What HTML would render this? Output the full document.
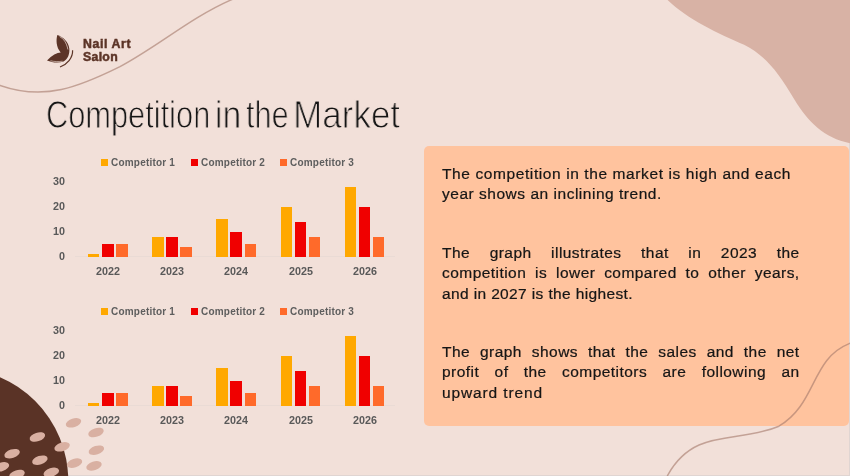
<!DOCTYPE html>
<html><head><meta charset="utf-8">
<style>
html,body{margin:0;padding:0;}
.para,.logo,.leg,.yl,.xl,.title{will-change:transform;}
body{width:850px;height:476px;overflow:hidden;background:#E0D5D2;position:relative;font-family:"Liberation Sans",sans-serif;}
#slide{position:absolute;left:0;top:0;width:850px;height:476px;overflow:hidden;}
#bg{position:absolute;left:0;top:0;width:849px;height:475px;background:#F2E0D9;}
.abs{position:absolute;}
svg{position:absolute;left:0;top:0;}
.title{position:absolute;top:94.2px;font-size:38px;line-height:normal;color:#141414;white-space:nowrap;transform-origin:0 0;-webkit-text-stroke:1px #F2E0D9;}
.logo{position:absolute;left:83px;font-size:12.3px;font-weight:700;color:#5C3427;white-space:nowrap;letter-spacing:0.3px;-webkit-text-stroke:0.5px #5C3427;}
.box{position:absolute;left:424px;top:145.8px;width:424.8px;height:280.6px;background:#FFC39E;border-radius:5px;}
.para{position:absolute;left:442.1px;width:357.6px;font-size:15.5px;color:#161616;letter-spacing:0.45px;-webkit-text-stroke:0.22px #161616;}
.para div{height:20.4px;line-height:20.4px;white-space:nowrap;}
.para div.j{text-align:justify;text-align-last:justify;white-space:normal;}
.leg{position:absolute;font-size:10px;font-weight:700;color:#5E5E5E;white-space:nowrap;letter-spacing:0.2px;}
.sq{position:absolute;width:7px;height:7px;}
.yl{position:absolute;font-size:10.75px;font-weight:700;color:#595959;width:30px;text-align:right;}
.xl{position:absolute;font-size:10.75px;font-weight:700;color:#595959;width:40px;text-align:center;}
.bar{position:absolute;width:11.5px;}
</style></head>
<body>
<div id="slide"><div id="bg"></div>
<svg width="850" height="476" viewBox="0 0 850 476">
  <path d="M667.6,0 C687.1,19.2 719.1,34.2 744.1,44.7 C766,56 778,72 794.7,100 C808,122 825,139 852,143.5 L852,-2 L667.6,-2 Z" fill="#D8B2A5"/>
  <path d="M-4,84 L0,85.4 C44.7,101.1 79,87 120,66.7 C157.6,46.6 191.2,17.5 230,0.4 L234,-1.4" fill="none" stroke="#A67A6C" stroke-opacity="0.62" stroke-width="1.5"/>
</svg>

<div class="title" style="left:46.4px;transform:scaleX(0.810)">Competition</div><div class="title" style="left:214.85px;transform:scaleX(0.883)">in</div><div class="title" style="left:246.4px;transform:scaleX(0.806)">the</div><div class="title" style="left:292.9px;transform:scaleX(0.922)">Market</div>
<div class="logo" style="top:37px;letter-spacing:0.6px">Nail Art</div>
<div class="logo" style="top:49.8px">Salon</div>
<svg width="100" height="100" viewBox="0 0 100 100" style="left:0;top:0">
  <path d="M57.3,35 C56,40 56,47 60.7,52.5 C57,52.5 52,55.5 47,60.4 C52,62.5 58,63.3 63.5,61.5 C68,59 69.8,54 69.3,48.5 C68.5,41.5 63,37 57.3,35 Z" fill="#5C3427"/>
  <path d="M59.6,36.6 C63.5,38.6 66.6,42.6 67.9,49.5" fill="none" stroke="#F2E0D9" stroke-width="0.7"/>
  <path d="M50.5,60.7 C54,61.7 58,61.9 62.5,61.2" fill="none" stroke="#F2E0D9" stroke-width="0.6"/>
  <path d="M72.6,50.3 C73,58 67,64.5 60,67" fill="none" stroke="#5C3427" stroke-width="1.2"/>
</svg>

<div class="box"></div>
<div class="para" style="top:164.2px">
  <div style="letter-spacing:0.6px">The competition in the market is high and each</div>
  <div style="letter-spacing:0.52px">year shows an inclining trend.</div>
</div>
<div class="para" style="top:242.7px">
  <div class="j">The graph illustrates that in 2023 the</div>
  <div class="j">competition is lower compared to other years,</div>
  <div style="letter-spacing:0.37px">and in 2027 is the highest.</div>
</div>
<div class="para" style="top:342.2px">
  <div class="j">The graph shows that the sales and the net</div>
  <div class="j">profit of the competitors are following an</div>
  <div style="letter-spacing:0.87px">upward trend</div>
</div>

<svg width="850" height="476" viewBox="0 0 850 476">
  <path d="M853,342.1 L849.2,343.6 C810.8,358.8 816.9,403.9 778.9,426.2 C738,444 694.9,426.6 667.9,474.8 L667,477" fill="none" stroke="#A67A6C" stroke-opacity="0.62" stroke-width="1.5"/>
  <circle cx="-44.7" cy="481" r="113" fill="#5A3326"/>
  <g fill="#D9B0A2">
    <ellipse cx="73.5" cy="422.8" rx="8" ry="4.3" transform="rotate(-18 73.5 422.8)"/>
    <ellipse cx="96" cy="432.5" rx="8" ry="4.3" transform="rotate(-18 96 432.5)"/>
    <ellipse cx="37.4" cy="437" rx="8" ry="4.3" transform="rotate(-18 37.4 437)"/>
    <ellipse cx="62.1" cy="446.8" rx="8" ry="4.3" transform="rotate(-18 62.1 446.8)"/>
    <ellipse cx="96.4" cy="450.2" rx="8" ry="4.3" transform="rotate(-18 96.4 450.2)"/>
    <ellipse cx="12.1" cy="453.7" rx="8" ry="4.3" transform="rotate(-18 12.1 453.7)"/>
    <ellipse cx="39.9" cy="460.2" rx="8" ry="4.3" transform="rotate(-18 39.9 460.2)"/>
    <ellipse cx="74.5" cy="463.1" rx="8" ry="4.3" transform="rotate(-18 74.5 463.1)"/>
    <ellipse cx="94" cy="465.9" rx="8" ry="4.3" transform="rotate(-18 94 465.9)"/>
    <ellipse cx="1.4" cy="466.9" rx="8" ry="4.3" transform="rotate(-18 1.4 466.9)"/>
    <ellipse cx="17" cy="474.5" rx="8" ry="4.3" transform="rotate(-18 17 474.5)"/>
    <ellipse cx="51.3" cy="472.4" rx="8" ry="4.3" transform="rotate(-18 51.3 472.4)"/>
  </g>
</svg>

<div id="charts">
<div class="sq" style="left:100.8px;top:159px;background:#FFA800"></div>
<div class="leg" style="left:110.7px;top:157.1px">Competitor 1</div>
<div class="sq" style="left:190.8px;top:159px;background:#F00000"></div>
<div class="leg" style="left:200.5px;top:157.1px">Competitor 2</div>
<div class="sq" style="left:279.6px;top:159px;background:#FF6A2A"></div>
<div class="leg" style="left:290px;top:157.1px">Competitor 3</div>
<div class="yl" style="left:34.599999999999994px;top:249.5px">0</div>
<div class="yl" style="left:34.599999999999994px;top:224.5px">10</div>
<div class="yl" style="left:34.599999999999994px;top:199.5px">20</div>
<div class="yl" style="left:34.599999999999994px;top:174.5px">30</div>
<div class="abs" style="left:75px;top:255.5px;width:320px;height:1px;background:#EADBD5"></div>
<div class="bar" style="left:87.9px;top:254px;height:2.5px;background:#FFA800"></div>
<div class="bar" style="left:102px;top:244px;height:12.5px;background:#F00000"></div>
<div class="bar" style="left:116.10000000000001px;top:244px;height:12.5px;background:#FF6A2A"></div>
<div class="xl" style="left:87.9px;top:264.7px">2022</div>
<div class="bar" style="left:152.12px;top:236.5px;height:20px;background:#FFA800"></div>
<div class="bar" style="left:166.22px;top:236.5px;height:20px;background:#F00000"></div>
<div class="bar" style="left:180.32px;top:246.5px;height:10px;background:#FF6A2A"></div>
<div class="xl" style="left:152.12px;top:264.7px">2023</div>
<div class="bar" style="left:216.34px;top:219px;height:37.5px;background:#FFA800"></div>
<div class="bar" style="left:230.44px;top:231.5px;height:25px;background:#F00000"></div>
<div class="bar" style="left:244.54px;top:244px;height:12.5px;background:#FF6A2A"></div>
<div class="xl" style="left:216.34px;top:264.7px">2024</div>
<div class="bar" style="left:280.56px;top:206.5px;height:50px;background:#FFA800"></div>
<div class="bar" style="left:294.66px;top:221.5px;height:35px;background:#F00000"></div>
<div class="bar" style="left:308.76px;top:236.5px;height:20px;background:#FF6A2A"></div>
<div class="xl" style="left:280.56px;top:264.7px">2025</div>
<div class="bar" style="left:344.78px;top:186.5px;height:70px;background:#FFA800"></div>
<div class="bar" style="left:358.88px;top:206.5px;height:50px;background:#F00000"></div>
<div class="bar" style="left:372.97999999999996px;top:236.5px;height:20px;background:#FF6A2A"></div>
<div class="xl" style="left:344.78px;top:264.7px">2026</div>
<div class="sq" style="left:100.8px;top:308px;background:#FFA800"></div>
<div class="leg" style="left:110.7px;top:306.1px">Competitor 1</div>
<div class="sq" style="left:190.8px;top:308px;background:#F00000"></div>
<div class="leg" style="left:200.5px;top:306.1px">Competitor 2</div>
<div class="sq" style="left:279.6px;top:308px;background:#FF6A2A"></div>
<div class="leg" style="left:290px;top:306.1px">Competitor 3</div>
<div class="yl" style="left:34.599999999999994px;top:398.5px">0</div>
<div class="yl" style="left:34.599999999999994px;top:373.5px">10</div>
<div class="yl" style="left:34.599999999999994px;top:348.5px">20</div>
<div class="yl" style="left:34.599999999999994px;top:323.5px">30</div>
<div class="abs" style="left:75px;top:404.5px;width:320px;height:1px;background:#EADBD5"></div>
<div class="bar" style="left:87.9px;top:403.298px;height:2.5px;background:#FFA800"></div>
<div class="bar" style="left:102px;top:393.298px;height:12.5px;background:#F00000"></div>
<div class="bar" style="left:116.10000000000001px;top:393.298px;height:12.5px;background:#FF6A2A"></div>
<div class="xl" style="left:87.9px;top:413.7px">2022</div>
<div class="bar" style="left:152.12px;top:385.798px;height:20px;background:#FFA800"></div>
<div class="bar" style="left:166.22px;top:385.798px;height:20px;background:#F00000"></div>
<div class="bar" style="left:180.32px;top:395.798px;height:10px;background:#FF6A2A"></div>
<div class="xl" style="left:152.12px;top:413.7px">2023</div>
<div class="bar" style="left:216.34px;top:368.298px;height:37.5px;background:#FFA800"></div>
<div class="bar" style="left:230.44px;top:380.798px;height:25px;background:#F00000"></div>
<div class="bar" style="left:244.54px;top:393.298px;height:12.5px;background:#FF6A2A"></div>
<div class="xl" style="left:216.34px;top:413.7px">2024</div>
<div class="bar" style="left:280.56px;top:355.798px;height:50px;background:#FFA800"></div>
<div class="bar" style="left:294.66px;top:370.798px;height:35px;background:#F00000"></div>
<div class="bar" style="left:308.76px;top:385.798px;height:20px;background:#FF6A2A"></div>
<div class="xl" style="left:280.56px;top:413.7px">2025</div>
<div class="bar" style="left:344.78px;top:335.798px;height:70px;background:#FFA800"></div>
<div class="bar" style="left:358.88px;top:355.798px;height:50px;background:#F00000"></div>
<div class="bar" style="left:372.97999999999996px;top:385.798px;height:20px;background:#FF6A2A"></div>
<div class="xl" style="left:344.78px;top:413.7px">2026</div>
</div>
</div>

</body></html>
